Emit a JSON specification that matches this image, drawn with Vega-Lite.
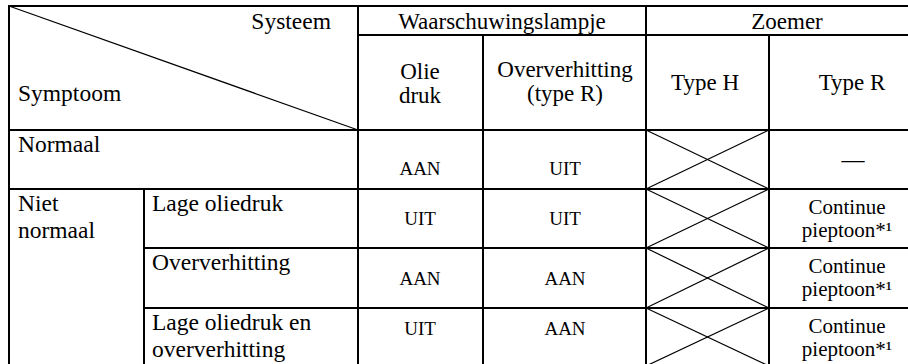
{
  "$schema": "https://vega.github.io/schema/vega-lite/v6.json",
  "width": 908,
  "height": 364,
  "padding": 0,
  "autosize": {"type": "none"},
  "background": "white",
  "config": {"view": {"stroke": null}, "text": {"font": "Liberation Serif", "color": "black"}},
  "datasets": {
    "lines": [
      {"kind": "grid", "x": 8, "y": 6, "x2": 932, "y2": 6},
      {"kind": "grid", "x": 358, "y": 35, "x2": 932, "y2": 35},
      {"kind": "grid", "x": 8, "y": 130, "x2": 932, "y2": 130},
      {"kind": "grid", "x": 8, "y": 189, "x2": 932, "y2": 189},
      {"kind": "grid", "x": 144, "y": 248, "x2": 932, "y2": 248},
      {"kind": "grid", "x": 144, "y": 308, "x2": 932, "y2": 308},
      {"kind": "grid", "x": 9, "y": 5, "x2": 9, "y2": 370},
      {"kind": "grid", "x": 358, "y": 5, "x2": 358, "y2": 370},
      {"kind": "grid", "x": 483, "y": 35, "x2": 483, "y2": 370},
      {"kind": "grid", "x": 646, "y": 5, "x2": 646, "y2": 370},
      {"kind": "grid", "x": 769, "y": 35, "x2": 769, "y2": 370},
      {"kind": "grid", "x": 144, "y": 189, "x2": 144, "y2": 370},
      {"kind": "diag", "x": 9, "y": 6, "x2": 358, "y2": 130},
      {"kind": "diag", "x": 646, "y": 130, "x2": 769, "y2": 189},
      {"kind": "diag", "x": 646, "y": 189, "x2": 769, "y2": 130},
      {"kind": "diag", "x": 646, "y": 189, "x2": 769, "y2": 248},
      {"kind": "diag", "x": 646, "y": 248, "x2": 769, "y2": 189},
      {"kind": "diag", "x": 646, "y": 248, "x2": 769, "y2": 308},
      {"kind": "diag", "x": 646, "y": 308, "x2": 769, "y2": 248},
      {"kind": "diag", "x": 646, "y": 308, "x2": 769, "y2": 366},
      {"kind": "diag", "x": 646, "y": 366, "x2": 769, "y2": 308}
    ],
    "cells": [
      {"role": "head", "label": "Waarschuwingslampje", "x": 502, "y": 29},
      {"role": "head", "label": "Zoemer", "x": 787, "y": 29},
      {"role": "head", "label": "Olie\ndruk", "x": 420, "y": 79},
      {"role": "head", "label": "Oververhitting\n(type R)", "x": 565, "y": 77},
      {"role": "head", "label": "Type H", "x": 705, "y": 90},
      {"role": "head", "label": "Type R", "x": 852, "y": 90},
      {"role": "head", "label": "—", "x": 853, "y": 167},
      {"role": "right", "label": "Systeem", "x": 331, "y": 29},
      {"role": "left", "label": "Symptoom", "x": 18, "y": 101},
      {"role": "left", "label": "Normaal", "x": 18, "y": 152},
      {"role": "left", "label": "Niet\nnormaal", "x": 18, "y": 211},
      {"role": "left", "label": "Lage oliedruk", "x": 152, "y": 211},
      {"role": "left", "label": "Oververhitting", "x": 152, "y": 270},
      {"role": "left", "label": "Lage oliedruk en\noververhitting", "x": 152, "y": 330},
      {"role": "value", "label": "AAN", "x": 420, "y": 175},
      {"role": "value", "label": "UIT", "x": 565, "y": 175},
      {"role": "value", "label": "UIT", "x": 420, "y": 225},
      {"role": "value", "label": "UIT", "x": 565, "y": 225},
      {"role": "value", "label": "AAN", "x": 420, "y": 285},
      {"role": "value", "label": "AAN", "x": 565, "y": 285},
      {"role": "value", "label": "UIT", "x": 420, "y": 335},
      {"role": "value", "label": "AAN", "x": 565, "y": 335},
      {"role": "note", "label": "Continue\npieptoon*¹", "x": 847, "y": 214},
      {"role": "note", "label": "Continue\npieptoon*¹", "x": 847, "y": 273},
      {"role": "note", "label": "Continue\npieptoon*¹", "x": 847, "y": 333}
    ]
  },
  "layer": [
    {
      "data": {"name": "lines"},
      "transform": [{"filter": "datum.kind === 'grid'"}],
      "mark": {"type": "rule", "strokeWidth": 2, "color": "black", "clip": true},
      "encoding": {
        "x": {"field": "x", "type": "quantitative", "scale": {"domain": [0, 908], "nice": false, "zero": false}, "axis": null},
        "x2": {"field": "x2"},
        "y": {"field": "y", "type": "quantitative", "scale": {"domain": [0, 364], "reverse": true, "nice": false, "zero": false}, "axis": null},
        "y2": {"field": "y2"}
      }
    },
    {
      "data": {"name": "lines"},
      "transform": [{"filter": "datum.kind === 'diag'"}],
      "mark": {"type": "rule", "strokeWidth": 1.2, "color": "black", "clip": true},
      "encoding": {
        "x": {"field": "x", "type": "quantitative", "axis": null},
        "x2": {"field": "x2"},
        "y": {"field": "y", "type": "quantitative", "axis": null},
        "y2": {"field": "y2"}
      }
    },
    {
      "data": {"name": "cells"},
      "transform": [{"filter": "datum.role === 'head'"}],
      "mark": {"type": "text", "align": "center", "baseline": "alphabetic", "fontSize": 23, "lineHeight": 24, "lineBreak": "\n"},
      "encoding": {
        "x": {"field": "x", "type": "quantitative", "axis": null},
        "y": {"field": "y", "type": "quantitative", "axis": null},
        "text": {"field": "label"}
      }
    },
    {
      "data": {"name": "cells"},
      "transform": [{"filter": "datum.role === 'right'"}],
      "mark": {"type": "text", "align": "right", "baseline": "alphabetic", "fontSize": 23.5},
      "encoding": {
        "x": {"field": "x", "type": "quantitative", "axis": null},
        "y": {"field": "y", "type": "quantitative", "axis": null},
        "text": {"field": "label"}
      }
    },
    {
      "data": {"name": "cells"},
      "transform": [{"filter": "datum.role === 'left'"}],
      "mark": {"type": "text", "align": "left", "baseline": "alphabetic", "fontSize": 23.5, "lineHeight": 27, "lineBreak": "\n"},
      "encoding": {
        "x": {"field": "x", "type": "quantitative", "axis": null},
        "y": {"field": "y", "type": "quantitative", "axis": null},
        "text": {"field": "label"}
      }
    },
    {
      "data": {"name": "cells"},
      "transform": [{"filter": "datum.role === 'value'"}],
      "mark": {"type": "text", "align": "center", "baseline": "alphabetic", "fontSize": 19},
      "encoding": {
        "x": {"field": "x", "type": "quantitative", "axis": null},
        "y": {"field": "y", "type": "quantitative", "axis": null},
        "text": {"field": "label"}
      }
    },
    {
      "data": {"name": "cells"},
      "transform": [{"filter": "datum.role === 'note'"}],
      "mark": {"type": "text", "align": "center", "baseline": "alphabetic", "fontSize": 21, "lineHeight": 23, "lineBreak": "\n"},
      "encoding": {
        "x": {"field": "x", "type": "quantitative", "axis": null},
        "y": {"field": "y", "type": "quantitative", "axis": null},
        "text": {"field": "label"}
      }
    }
  ]
}
